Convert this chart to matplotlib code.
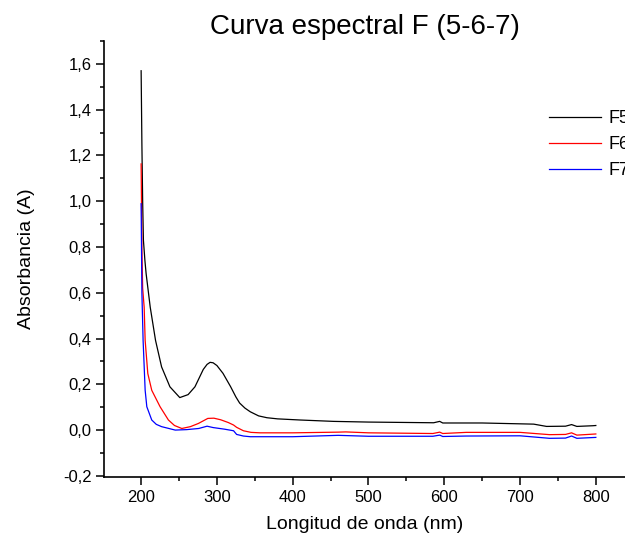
import matplotlib
matplotlib.use("Agg")
import matplotlib.pyplot as plt
import matplotlib.ticker as ticker

plt.rcParams['font.family'] = ['Liberation Sans', 'DejaVu Sans']

# Data (wavelength in nm, absorbance in A)
wl_f5 = [200, 201, 202, 203, 205, 206.6, 212, 219, 227, 238, 251, 262, 271,
         282, 287, 291, 295, 300, 308, 318, 325, 330, 337, 344, 355, 366,
         380, 410, 454, 500, 586, 594, 598, 650, 718, 735, 760, 768, 775,
         796, 800]
abs_f5 = [1.57, 1.25, 1.0, 0.83, 0.74, 0.683, 0.537, 0.392, 0.276, 0.189,
          0.142, 0.155, 0.189, 0.265, 0.287, 0.296, 0.294, 0.282, 0.248,
          0.19, 0.145, 0.118, 0.096, 0.08, 0.062, 0.054, 0.049, 0.044,
          0.038, 0.035, 0.032, 0.038, 0.031, 0.031, 0.026, 0.016, 0.017,
          0.024, 0.016, 0.019, 0.02]

wl_f6 = [200, 201, 202, 204, 205.3, 208.8, 214, 225, 236, 244, 253.7, 265,
         275.6, 288, 296, 305, 315, 322, 326, 335, 345, 357, 400, 460, 470,
         500, 585, 594, 598, 629, 700, 739, 760, 768, 775, 800]
abs_f6 = [1.163, 0.8, 0.62, 0.537, 0.392, 0.247, 0.174, 0.102, 0.044, 0.02,
          0.007, 0.015, 0.029, 0.051, 0.052, 0.045, 0.033, 0.022, 0.012,
          -0.003, -0.010, -0.012, -0.012, -0.009, -0.008, -0.012, -0.015,
          -0.009, -0.015, -0.010, -0.010, -0.020, -0.019, -0.012, -0.022,
          -0.017]

wl_f7 = [200, 201, 202.6, 205.3, 207.5, 214, 220, 227, 245, 260, 276, 287,
         295, 310, 322, 326, 335, 344, 365, 400, 460, 500, 585, 594, 598,
         629, 700, 739, 760, 768, 775, 800]
abs_f7 = [0.989, 0.6, 0.392, 0.174, 0.102, 0.044, 0.025, 0.015, 0.0, 0.002,
          0.007, 0.017, 0.011, 0.004, -0.003, -0.019, -0.026, -0.029, -0.029,
          -0.029, -0.023, -0.027, -0.027, -0.022, -0.028, -0.026, -0.025,
          -0.036, -0.035, -0.026, -0.036, -0.032]

series = [("F5", wl_f5, abs_f5, "black"),
          ("F6", wl_f6, abs_f6, "red"),
          ("F7", wl_f7, abs_f7, "blue")]

fig = plt.figure(figsize=(6.25, 5.46), dpi=100)
ax = fig.add_axes([104 / 625, 69 / 546, 521 / 625, 436 / 546])

for name, x, y, c in series:
    ax.plot(x, y, color=c, lw=0.9, label=name)

ax.set_xlim(151, 838.5)
ax.set_ylim(-0.205, 1.70)

for s in ("top", "right"):
    ax.spines[s].set_visible(False)
for s in ("left", "bottom"):
    ax.spines[s].set_linewidth(1.2)

ax.xaxis.set_major_locator(ticker.MultipleLocator(100))
ax.xaxis.set_minor_locator(ticker.MultipleLocator(50))
ax.yaxis.set_major_locator(ticker.FixedLocator([-0.2, 0, 0.2, 0.4, 0.6, 0.8,
                                                1.0, 1.2, 1.4, 1.6]))
ax.yaxis.set_minor_locator(ticker.MultipleLocator(0.1))
ax.yaxis.set_major_formatter(
    ticker.FuncFormatter(lambda v, p: f"{v:.1f}".replace(".", ",")))
ax.xaxis.set_major_formatter(ticker.FuncFormatter(lambda v, p: f"{v:.0f}"))
ax.tick_params(which="major", direction="out", length=5.5, width=1.1,
               labelsize=12)
ax.tick_params(which="minor", direction="out", length=3, width=1.1)

ax.set_xlabel("Longitud de onda (nm)", fontsize=14, labelpad=8)
ax.set_ylabel("Absorbancia (A)", fontsize=14, labelpad=20)
ax.set_title("Curva espectral F (5-6-7)", fontsize=20, pad=5)

# legend sits at the right edge, labels run off the figure as in the source
ax.legend(loc="upper left", bbox_to_anchor=(549 / 625, 1 - 110 / 546),
          bbox_transform=fig.transFigure, frameon=False, fontsize=13,
          handlelength=2.9, handletextpad=0.4, labelspacing=0.5,
          borderpad=0, borderaxespad=0)

fig.savefig("out.png", dpi=100)
